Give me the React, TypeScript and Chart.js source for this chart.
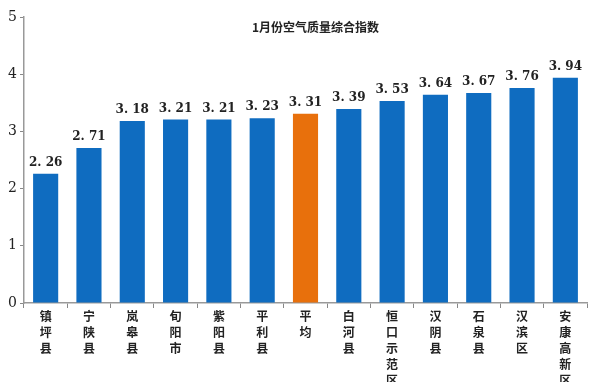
import React, { useEffect, useRef } from "react";
import { Chart, registerables } from "chart.js";

Chart.register(...registerables);

const categories = ["镇坪县", "宁陕县", "岚皋县", "旬阳市", "紫阳县", "平利县", "平均", "白河县", "恒口示范区", "汉阴县", "石泉县", "汉滨区", "安康高新区"];
const values = [2.26, 2.71, 3.18, 3.21, 3.21, 3.23, 3.31, 3.39, 3.53, 3.64, 3.67, 3.76, 3.94];
const highlightIndex = [6];
const yTicks = [0, 1, 2, 3, 4, 5];
const title = "1月份空气质量综合指数";

const BLUE = "#0f6cc0";
const ORANGE = "#e8700c";

export default function App() {
  const ref = useRef<HTMLCanvasElement | null>(null);
  useEffect(() => {
    if (!ref.current) return;
    const labelPlugin = {
      id: "labels",
      afterDatasetsDraw(chart: any) {
        const ctx = chart.ctx;
        const meta = chart.getDatasetMeta(0);
        ctx.save();
        ctx.fillStyle = "#222";
        ctx.font = "600 12px 'DejaVu Serif', serif";
        ctx.textAlign = "center";
        ctx.textBaseline = "bottom";
        meta.data.forEach((bar: any, i: number) => {
          const s = values[i].toFixed(2).replace(".", ". ");
          ctx.fillText(s, bar.x, bar.y - 5);
        });
        ctx.font = "bold 12px 'Noto Sans CJK SC', serif";
        ctx.textBaseline = "middle";
        const ca = chart.chartArea;
        ctx.fillText(title, (ca.left + ca.right) / 2 + 10, ca.top + 10);
        ctx.restore();
      },
    };
    const chart = new Chart(ref.current, {
      type: "bar",
      data: {
        labels: categories.map((c) => c.split("")),
        datasets: [
          {
            data: values,
            backgroundColor: values.map((_, i) => (highlightIndex.includes(i) ? ORANGE : BLUE)),
            categoryPercentage: 1,
            barPercentage: 0.58,
          },
        ],
      },
      options: {
        animation: false,
        responsive: false,
        maintainAspectRatio: false,
        layout: { padding: { top: 17, right: 4, left: 0, bottom: 0 } },
        plugins: { legend: { display: false }, tooltip: { enabled: false }, title: { display: false } },
        scales: {
          x: {
            offset: true,
            grid: { display: true, offset: true, drawOnChartArea: false, tickLength: 5, color: "#888" },
            border: { color: "#999", width: 1.5 },
            ticks: {
              color: "#222",
              font: { family: "'Noto Sans CJK SC', serif", size: 12, weight: "bold", lineHeight: 1.32 },
              maxRotation: 0,
              autoSkip: false,
              padding: 1,
            },
            afterFit: (s: any) => {
              s.height = 79;
            },
          },
          y: {
            min: 0,
            max: 5,
            afterBuildTicks: (s: any) => {
              s.ticks = yTicks.map((v) => ({ value: v }));
            },
            grid: { display: true, drawOnChartArea: false, tickLength: 4, color: "#888" },
            border: { color: "#999", width: 1.5 },
            ticks: {
              color: "#222",
              font: { family: "'DejaVu Serif', serif", size: 14, weight: "normal" },
              padding: 3,
            },
            afterFit: (s: any) => {
              s.width = 24;
            },
          },
        },
      },
      plugins: [labelPlugin],
    } as any);
    return () => chart.destroy();
  }, []);
  return (
    <div style={{ position: "fixed", left: 0, top: 0, width: 591, height: 382, background: "#fff" }}>
      <canvas ref={ref} width={591} height={382} style={{ width: 591, height: 382 }} />
    </div>
  );
}
